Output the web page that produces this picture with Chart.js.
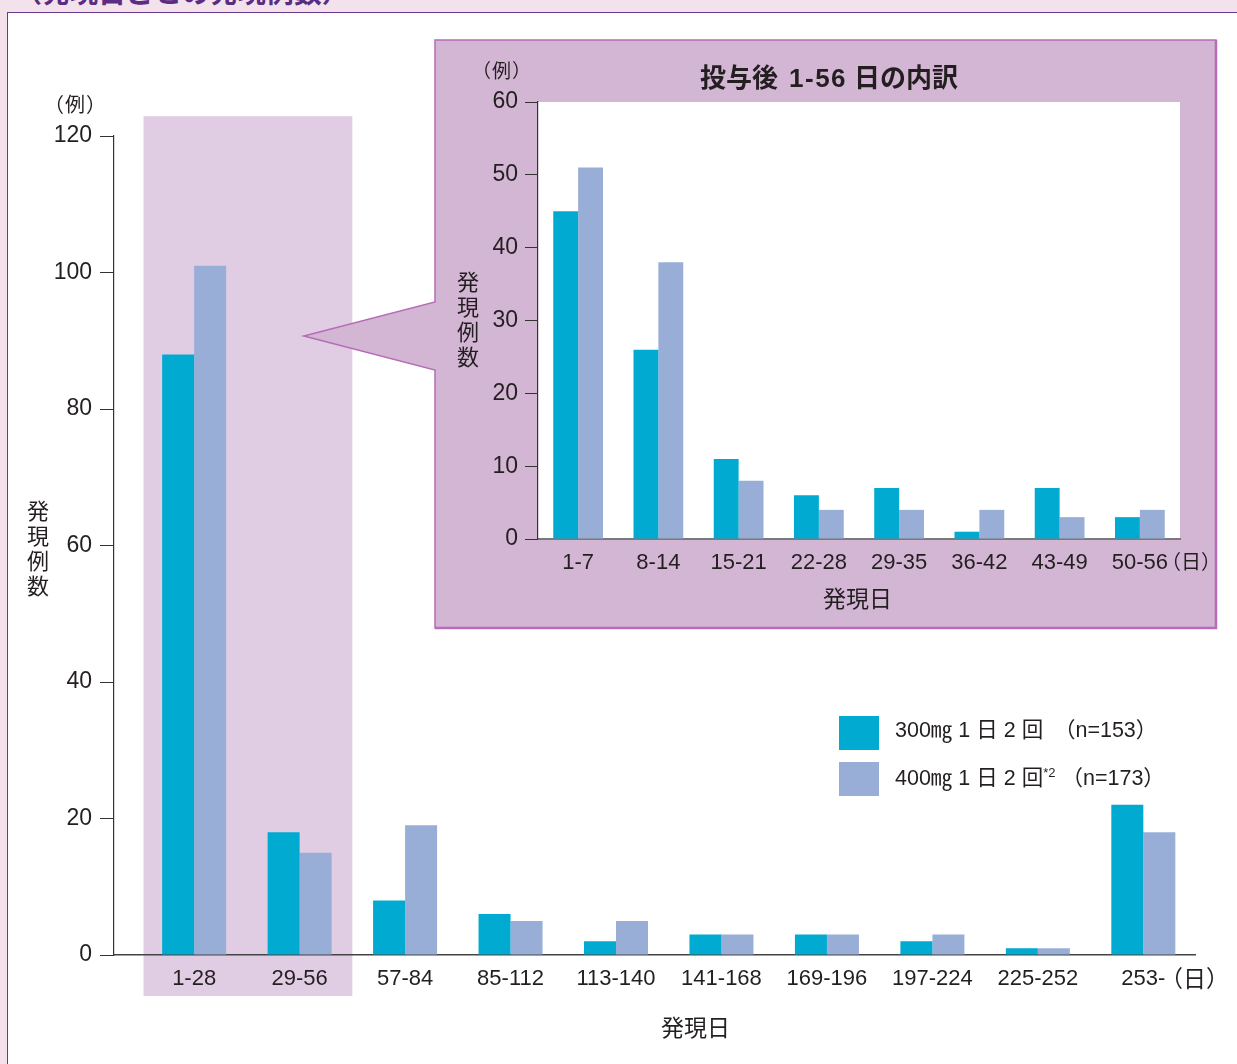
<!DOCTYPE html>
<html><head><meta charset="utf-8">
<script src="https://cdn.jsdelivr.net/npm/chart.js@4/dist/chart.umd.min.js"></script>
<style>
html,body{margin:0;padding:0;}
body{width:1237px;height:1064px;background:#f3e2eb;position:relative;overflow:hidden;font-family:"Liberation Sans","Noto Sans CJK JP",sans-serif;color:#231f20;}
#frame{position:absolute;left:7px;top:12px;width:1300px;height:1100px;background:#fff;border:1.5px solid #6b3a8e;box-sizing:border-box;}
#toptitle{position:absolute;left:14px;top:-23px;font-family:"Noto Sans CJK JP",sans-serif;font-weight:bold;font-size:28px;line-height:1;color:#5b2c84;white-space:nowrap;}
canvas{position:absolute;}
#mainC{left:0;top:0;}
#insetC{left:435px;top:40px;}
.t{position:absolute;white-space:nowrap;font-size:20px;line-height:1;}
.v{writing-mode:vertical-rl;text-orientation:upright;font-family:"Noto Sans CJK JP",sans-serif;font-size:22px;line-height:1;letter-spacing:3px;}
.jp{font-family:"Noto Sans CJK JP",sans-serif;}
.mx{font-family:"Liberation Sans","Noto Sans CJK JP",sans-serif;}
.lg{position:absolute;left:839px;width:40px;height:34px;}
</style></head>
<body>
<div id="toptitle">（発現日ごとの発現例数）</div>
<div id="frame"></div>
<canvas id="mainC" width="1237" height="1064"></canvas>
<canvas id="insetC" width="782" height="589"></canvas>

<div class="t jp" style="left:44px;top:94px;font-size:20px;letter-spacing:1px;">（例）</div>
<div class="t v" style="left:27px;top:500px;">発現例数</div>
<div class="t jp" style="left:661px;top:1015px;font-size:23px;">発現日</div>
<div class="t jp" style="left:1160px;top:966px;font-size:23px;">（日）</div>

<div class="t jp" style="left:472px;top:60px;font-size:19px;letter-spacing:1px;">（例）</div>
<div class="t mx" style="left:700px;top:63px;font-size:26px;font-weight:bold;"><span class="jp">投与後</span><span style="margin-left:11px;letter-spacing:1.5px;">1-56</span><span class="jp" style="margin-left:7px;">日の内訳</span></div>
<div class="t v" style="left:457px;top:271px;">発現例数</div>
<div class="t jp" style="left:823px;top:586px;font-size:23px;">発現日</div>
<div class="t jp" style="left:1161px;top:551px;font-size:20px;">（日）</div>

<div class="lg" style="top:716px;background:#00aad0;"></div>
<div class="lg" style="top:762px;background:#99aed7;"></div>
<div class="t mx" id="lg1" style="left:895px;top:720px;font-size:21.5px;"></div>
<div class="t mx" id="lg2" style="left:895px;top:766px;font-size:21.5px;"></div>

<script>
// ---- data ----
const mainCategories = ['1-28','29-56','57-84','85-112','113-140','141-168','169-196','197-224','225-252','253-'];
const main300 = [88, 18, 8, 6, 2, 3, 3, 2, 1, 22];
const main400 = [101, 15, 19, 5, 5, 3, 3, 3, 1, 18];
const insetCategories = ['1-7','8-14','15-21','22-28','29-35','36-42','43-49','50-56'];
const inset300 = [45, 26, 11, 6, 7, 1, 7, 3];
const inset400 = [51, 38, 8, 4, 4, 4, 3, 4];
const seriesLabels = ['300㎎ 1 日 2 回　（n=153）', '400㎎ 1 日 2 回<sup style="font-size:13px;vertical-align:8px">*2</sup> （n=173）'];

const C300 = '#00aad0', C400 = '#99aed7';
const FONT = '"Liberation Sans","Noto Sans CJK JP",sans-serif';

document.getElementById('lg1').innerHTML = seriesLabels[0];
document.getElementById('lg2').innerHTML = seriesLabels[1];

// ---- main chart ----
const bgPlugin = {
  id: 'bg',
  beforeDraw(chart) {
    const ctx = chart.ctx, x = chart.scales.x, y = chart.scales.y;
    const l = x.getPixelForValue(-0.48), r = x.getPixelForValue(1.5);
    const t = y.getPixelForValue(122.9), b = y.getPixelForValue(-6);
    ctx.save();
    ctx.fillStyle = '#e1cde3';
    ctx.fillRect(l, t, r - l, b - t);
    const tipX = x.getPixelForValue(1.04), tipY = y.getPixelForValue(90.7);
    const bx0 = 435, by0 = 40, bx1 = 1216, by1 = 628, py0 = 302, py1 = 370;
    ctx.beginPath();
    ctx.moveTo(bx0, by0); ctx.lineTo(bx1, by0); ctx.lineTo(bx1, by1); ctx.lineTo(bx0, by1);
    ctx.lineTo(bx0, py1); ctx.lineTo(tipX, tipY); ctx.lineTo(bx0, py0); ctx.closePath();
    ctx.fillStyle = '#d3b5d4';
    ctx.fill();
    ctx.strokeStyle = '#b66cb8';
    ctx.lineWidth = 1.5;
    ctx.stroke();
    ctx.lineWidth = 2.5;
    ctx.beginPath(); ctx.moveTo(bx1, by0); ctx.lineTo(bx1, by1); ctx.lineTo(bx0, by1); ctx.stroke();
    ctx.restore();
  }
};

new Chart(document.getElementById('mainC'), {
  type: 'bar',
  data: {
    datasets: [
      { label: seriesLabels[0], data: main300.map((v, i) => ({x: i, y: v})), backgroundColor: C300 },
      { label: seriesLabels[1], data: main400.map((v, i) => ({x: i, y: v})), backgroundColor: C400 }
    ]
  },
  options: {
    responsive: false, animation: false,
    layout: { padding: { left: 54, right: 42, top: 136, bottom: 69 } },
    datasets: { bar: { categoryPercentage: 0.607, barPercentage: 1.0 } },
    plugins: { legend: { display: false }, tooltip: { enabled: false } },
    scales: {
      x: {
        type: 'linear', min: -0.76, max: 9.49, offset: false,
        afterFit(s) { s.height = 40; },
        grid: { display: false, drawTicks: false, offset: false },
        border: { display: true, color: '#444', width: 1.5 },
        ticks: {
          stepSize: 1, includeBounds: false, autoSkip: false, maxRotation: 0, padding: 11,
          color: '#231f20', font: { family: FONT, size: 22 },
          callback: v => (Number.isInteger(v) && mainCategories[v] !== undefined) ? mainCategories[v] : ''
        }
      },
      y: {
        min: 0, max: 120,
        afterFit(s) { s.width = 60; },
        grid: { drawOnChartArea: false, drawTicks: true, tickLength: 14, color: '#333', lineWidth: 1 },
        border: { display: true, color: '#333', width: 1.2 },
        ticks: { stepSize: 20, padding: 8, color: '#231f20', font: { family: FONT, size: 23 } }
      }
    }
  },
  plugins: [bgPlugin]
});

// ---- inset chart ----
const whitePlugin = {
  id: 'white',
  beforeDraw(chart) {
    const a = chart.chartArea, ctx = chart.ctx;
    ctx.save(); ctx.fillStyle = '#fff';
    ctx.fillRect(a.left, a.top, a.right - a.left, a.bottom - a.top);
    ctx.restore();
  }
};

new Chart(document.getElementById('insetC'), {
  type: 'bar',
  data: {
    labels: insetCategories,
    datasets: [
      { label: seriesLabels[0], data: inset300, backgroundColor: C300 },
      { label: seriesLabels[1], data: inset400, backgroundColor: C400 }
    ]
  },
  options: {
    responsive: false, animation: false,
    layout: { padding: { left: 43, right: 37, top: 62, bottom: 50 } },
    datasets: { bar: { categoryPercentage: 0.62, barPercentage: 1.0 } },
    plugins: { legend: { display: false }, tooltip: { enabled: false } },
    scales: {
      x: {
        afterFit(s) { s.height = 40; },
        grid: { display: false, drawTicks: false },
        border: { display: true, color: '#7a7a7a', width: 2 },
        ticks: { padding: 11, maxRotation: 0, color: '#231f20', font: { family: FONT, size: 22 } }
      },
      y: {
        min: 0, max: 60,
        afterFit(s) { s.width = 60; },
        grid: { drawOnChartArea: false, drawTicks: true, tickLength: 13, color: '#333', lineWidth: 1 },
        border: { display: true, color: '#333', width: 1.2 },
        ticks: { stepSize: 10, padding: 7, color: '#231f20', font: { family: FONT, size: 23 } }
      }
    }
  },
  plugins: [whitePlugin]
});
</script>
</body></html>
